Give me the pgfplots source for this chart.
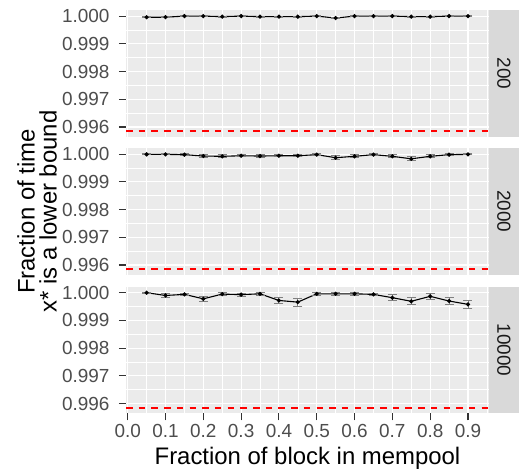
\documentclass[border=0pt]{standalone}
\usepackage{fontspec}
\setmainfont{Liberation Sans}
\usepackage{pgfplots}
\usepackage{pgfplotstable}
\pgfplotsset{compat=1.18}

\definecolor{panelbg}{HTML}{EBEBEB}
\definecolor{stripbg}{HTML}{D9D9D9}
\definecolor{ticktext}{HTML}{4D4D4D}
\definecolor{tickline}{HTML}{333333}
\definecolor{striptext}{HTML}{1A1A1A}
\definecolor{errgray}{HTML}{808080}
\definecolor{refred}{HTML}{FF0000}

% x, y = fraction of time, e = error
\pgfplotstableread{
x    y        e
0.05 0.99996 0.00002
0.10 0.99996 0.00002
0.15 1.00000 0.00001
0.20 1.00000 0.00001
0.25 0.99998 0.00002
0.30 1.00000 0.00001
0.35 0.99998 0.00002
0.40 0.99998 0.00002
0.45 0.99998 0.00002
0.50 1.00000 0.00001
0.55 0.99993 0.00003
0.60 1.00000 0.00001
0.65 1.00000 0.00001
0.70 1.00000 0.00001
0.75 0.99998 0.00002
0.80 0.99998 0.00002
0.85 1.00000 0.00001
0.90 1.00000 0.00001
}\dataA

\pgfplotstableread{
x    y        e
0.05 0.99999 0.00002
0.10 0.99999 0.00002
0.15 0.99998 0.00003
0.20 0.99993 0.00004
0.25 0.99992 0.00005
0.30 0.99994 0.00004
0.35 0.99993 0.00005
0.40 0.99994 0.00004
0.45 0.99994 0.00004
0.50 0.99998 0.00003
0.55 0.99987 0.00007
0.60 0.99992 0.00005
0.65 0.99998 0.00003
0.70 0.99992 0.00005
0.75 0.99983 0.00007
0.80 0.99992 0.00005
0.85 0.99998 0.00003
0.90 0.99999 0.00002
}\dataB

\pgfplotstableread{
x    y        e
0.05 1.00000 0.00001
0.10 0.99990 0.00007
0.15 0.99994 0.00005
0.20 0.99978 0.00010
0.25 0.99995 0.00006
0.30 0.99993 0.00006
0.35 0.99996 0.00005
0.40 0.99972 0.00012
0.45 0.99966 0.00014
0.50 0.99996 0.00005
0.55 0.99996 0.00005
0.60 0.99996 0.00005
0.65 0.99994 0.00005
0.70 0.99982 0.00010
0.75 0.99969 0.00013
0.80 0.99987 0.00010
0.85 0.99970 0.00012
0.90 0.99958 0.00014
}\dataC

% red reference level, same in every panel
\pgfplotstableread{
x       y
-0.0045 0.99585
0.9556  0.99585
}\refline

\pgfplotsset{
  panel/.style={
    scale only axis,
    width=363bp, height=126.7bp,
    xmin=-0.0045, xmax=0.9556,
    ymin=0.99565, ymax=1.00022,
    xtick={0,0.1,0.2,0.3,0.4,0.5,0.6,0.7,0.8,0.9},
    minor xtick={0.05,0.15,0.25,0.35,0.45,0.55,0.65,0.75,0.85,0.95},
    ytick={0.996,0.997,0.998,0.999,1.000},
    minor ytick={0.9965,0.9975,0.9985,0.9995},
    grid=both,
    major grid style={white, line width=1.1bp},
    minor grid style={white, line width=0.55bp},
    axis background/.style={fill=panelbg},
    axis line style={draw=none},
    tick align=outside,
    xtick pos=bottom, ytick pos=left,
    major tick length=7bp, minor tick length=0pt,
    tick style={tickline, line width=1.1bp},
    minor tick style={draw=none},
    /pgf/number format/assume math mode=true,
    yticklabel style={xshift=-6bp, /pgf/number format/.cd, fixed, fixed zerofill, precision=3},
    xticklabel style={/pgf/number format/.cd, fixed, fixed zerofill, precision=1},
    ticklabel style={font=\fontsize{19}{22}\selectfont, text=ticktext},
    clip=false,
  },
  hline/.style={color=refred, solid, line width=1.9bp, dash pattern=on 6.5bp off 6.2bp, mark=none},
  series/.style={color=black, line width=1.1bp, mark=*, mark size=1.5bp,
    mark options={fill=black, draw=black},
    error bars/.cd, y dir=both, y explicit,
    error bar style={errgray, line width=0.9bp},
    error mark options={errgray, rotate=90, mark size=4.5bp, line width=0.9bp}},
}

\newcommand{\strip}[1]{%
  \fill[stripbg] (rel axis cs:1,0) rectangle ([xshift=30bp]rel axis cs:1,1);
  \node[rotate=-90, font=\fontsize{19}{22}\selectfont, text=striptext]
    at ([xshift=15bp]rel axis cs:1,0.5) {#1};
}

\begin{document}
\begin{tikzpicture}
\begin{axis}[panel, at={(126bp,-10bp)}, anchor=north west,
  xticklabels={}, xtick style={draw=none}]
\addplot[hline] table[x=x, y=y] {\refline};
\addplot[series] table[x=x, y=y, y error=e] {\dataA};
\strip{200}
\end{axis}

\begin{axis}[panel, at={(126bp,-148bp)}, anchor=north west,
  xticklabels={}, xtick style={draw=none}]
\addplot[hline] table[x=x, y=y] {\refline};
\addplot[series] table[x=x, y=y, y error=e] {\dataB};
\strip{2000}
\end{axis}

\begin{axis}[panel, at={(126bp,-286.6bp)}, anchor=north west,
  xlabel={Fraction of block in mempool},
  xlabel style={at={(rel axis cs:0.5,0)}, anchor=base, yshift=-51bp,
    font=\fontsize{24}{28}\selectfont}]
\addplot[hline] table[x=x, y=y] {\refline};
\addplot[series] table[x=x, y=y, y error=e] {\dataC};
\strip{10000}
\end{axis}

\node[rotate=90, align=center, font=\fontsize{24}{22}\selectfont]
  at (37bp,-211.5bp) {Fraction of time\\x* is a lower bound};

\pgfresetboundingbox
\path[use as bounding box] (0,0) rectangle (519bp,-469bp);
\end{tikzpicture}
\end{document}
